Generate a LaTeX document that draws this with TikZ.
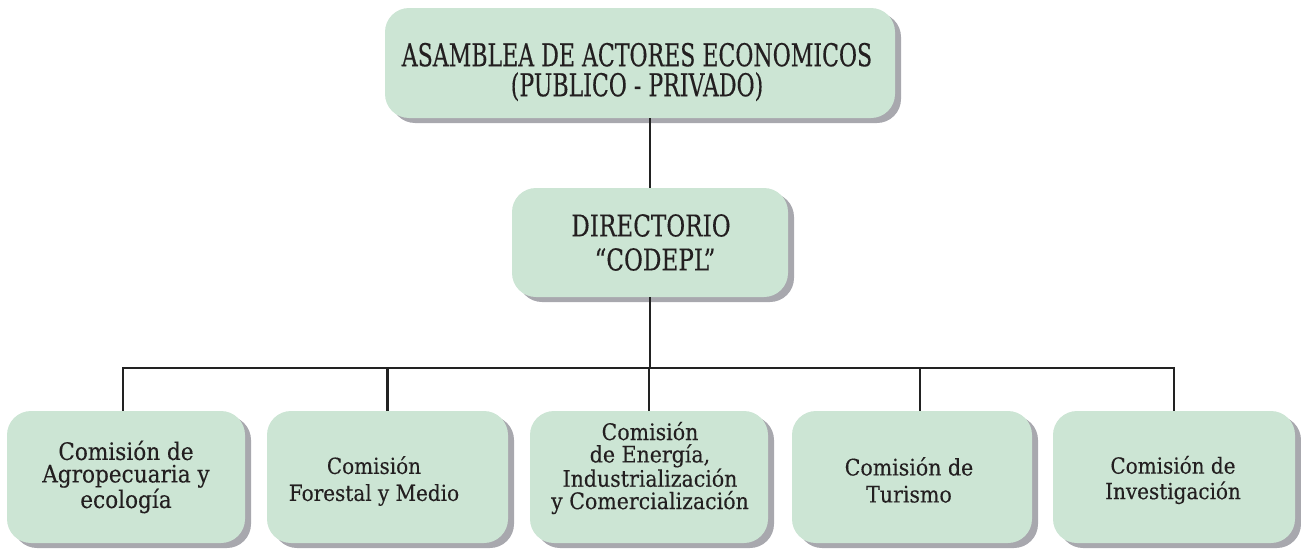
\documentclass[tikz,border=0pt]{standalone}
\usepackage{fontspec}
\setmainfont{DejaVu Serif}
\newfontfamily\capsA[FakeStretch=0.70,FakeBold=0.3]{DejaVu Serif}
\newfontfamily\capsB[FakeStretch=0.77,FakeBold=0.3]{DejaVu Serif}
\newfontfamily\lowf[FakeStretch=0.9,FakeBold=0.2]{DejaVu Serif}
\usetikzlibrary{shadows}
\definecolor{boxfill}{RGB}{204,229,212}
\definecolor{shade}{RGB}{168,168,174}
\definecolor{linec}{RGB}{34,34,34}
\definecolor{txt}{RGB}{35,31,32}
\tikzset{
  orgbox/.style={rounded corners=24pt, fill=boxfill, draw=none, inner sep=0pt,
    drop shadow={shadow xshift=6pt, shadow yshift=-5pt, fill=shade, opacity=1}},
  bottombox/.style={orgbox, minimum height=132pt},
  lbl/.style={align=center, text=txt, inner sep=0pt},
  conn/.style={draw=linec, line width=2.6pt}
}
\begin{document}
\begin{tikzpicture}[x=1pt,y=-1pt]
\useasboundingbox (0,0) rectangle (1301,549);
% boxes
\node[orgbox, minimum width=510pt, minimum height=110pt] (top) at (640,63) {};
\node[orgbox, minimum width=276pt, minimum height=109pt] (dir) at (650,242.5) {};
\node[bottombox, minimum width=238pt] (b1) at (126,477) {};
\node[bottombox, minimum width=241pt] (b2) at (387.5,477) {};
\node[bottombox, minimum width=238pt] (b3) at (649,477) {};
\node[bottombox, minimum width=240pt] (b4) at (912,477) {};
\node[bottombox, minimum width=242pt] (b5) at (1174,477) {};
% texts
\node[lbl, font={\capsA\fontsize{31.5}{30}\selectfont}] (topt) at (637,72)
  {ASAMBLEA DE ACTORES ECONOMICOS\\(PUBLICO - PRIVADO)};
\node[lbl, font={\capsB\fontsize{30}{34}\selectfont}] (dirt) at (651,242.5)
  {DIRECTORIO\\\hspace*{8pt}“CODEPL”};
\node[lbl, font={\lowf\fontsize{24}{22.5}\selectfont}] (b1t) at (126,477)
  {Comisión de\\Agropecuaria y\\ecología};
\node[lbl, font={\lowf\fontsize{22.2}{27}\selectfont}] (b2t) at (374,481)
  {Comisión\\Forestal y Medio};
\node[lbl, font={\lowf\fontsize{22.8}{22.4}\selectfont}] (b3t) at (650,468)
  {Comisión\\de Energía,\\Industrialización\\y Comercialización};
\node[lbl, font={\lowf\fontsize{22.8}{27}\selectfont}] (b4t) at (909,480)
  {Comisión de\\Turismo};
\node[lbl, font={\lowf\fontsize{22.2}{25.5}\selectfont}] (b5t) at (1173,480)
  {Comisión de\\Investigación};
% connectors
\coordinate (bus) at (650,368);
\draw[conn] (dir.north) -- (dir.north |- top.south);
\draw[conn] (dir.south) -- (dir.south |- bus);
\draw[conn] ([xshift=-3pt]b1.north) -- ([xshift=-3pt]b1.north |- bus) -- (b5.north |- bus) -- (b5.north);
\draw[conn] (b2.north) -- (b2.north |- bus);
\draw[conn] (b3.north) -- (b3.north |- bus);
\draw[conn] ([xshift=8pt]b4.north) -- ([xshift=8pt]b4.north |- bus);
\end{tikzpicture}
\end{document}
